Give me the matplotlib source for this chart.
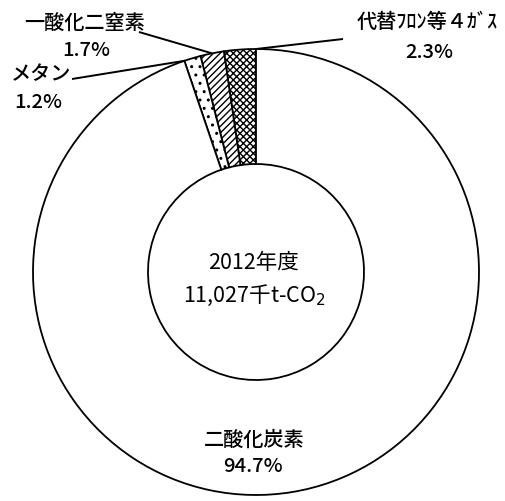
import numpy as np
import matplotlib
matplotlib.use('Agg')
import matplotlib.pyplot as plt

plt.rcParams['font.family'] = ['Noto Sans CJK JP', 'DejaVu Sans']
plt.rcParams['hatch.linewidth'] = 1.0

# data (counterclockwise from 12 o'clock)
gases = ['代替ﾌﾛﾝ等４ｶﾞｽ', '一酸化二窒素', 'メタン', '二酸化炭素']
shares = [2.3, 1.7, 1.2, 94.7]
share_labels = ['2.3%', '1.7%', '1.2%', '94.7%']
hatches = ['xxxxx', '/////', '..', '']
total_label = ['2012年度', '11,027千t-CO$_2$']

W, H = 505, 502
fig = plt.figure(figsize=(W / 100, H / 100), dpi=100)
ax = fig.add_axes([0, 0, 1, 1])

cx, cy = 256, H - 273
r_out, r_in = 223, 108

wedges, _ = ax.pie(shares, startangle=90, counterclock=True, center=(cx, cy),
                   radius=r_out, frame=True,
                   wedgeprops=dict(width=r_out - r_in, facecolor='white',
                                   edgecolor='black', linewidth=1.3))
for w_, h in zip(wedges, hatches):
    w_.set_hatch(h)
ax.set_xlim(0, W)
ax.set_ylim(0, H)
ax.set_aspect('equal')
ax.axis('off')


def rim(angle):
    a = np.deg2rad(angle)
    return cx + r_out * np.cos(a), cy + r_out * np.sin(a)


fs = 14.5
wt = 'medium'
# leader lines: label start point, angle on rim
leaders = [
    ((343, H - 40), wedges[0].theta1),
    ((139, H - 33), (wedges[1].theta1 + wedges[1].theta2) / 2),
    ((72, H - 80), wedges[2].theta2),
]
for (x0, y0), ang in leaders:
    x1, y1 = rim(ang)
    ax.plot([x0, x1], [y0, y1], color='black', lw=1.4, solid_capstyle='butt')

label_pos = [((427, 22), (429, 53)), ((85, 23), (86, 51)), ((41, 75), (38, 103))]
for ((xn, yn), (xv, yv)), name, val in zip(label_pos, gases[:3], share_labels[:3]):
    ax.text(xn, H - yn, name, ha='center', va='center', fontsize=fs, fontweight=wt)
    ax.text(xv, H - yv, val, ha='center', va='center', fontsize=fs, fontweight=wt)

ax.text(cx - 2, H - 440, gases[3], ha='center', va='center', fontsize=fs, fontweight=wt)
ax.text(cx - 3, H - 467, share_labels[3], ha='center', va='center', fontsize=fs, fontweight=wt)

ax.text(cx - 3, H - 263, total_label[0], ha='center', va='center', fontsize=15.5)
ax.text(cx - 2, H - 295, total_label[1], ha='center', va='center', fontsize=15.5)

fig.savefig('out.png', dpi=100, facecolor='white')
